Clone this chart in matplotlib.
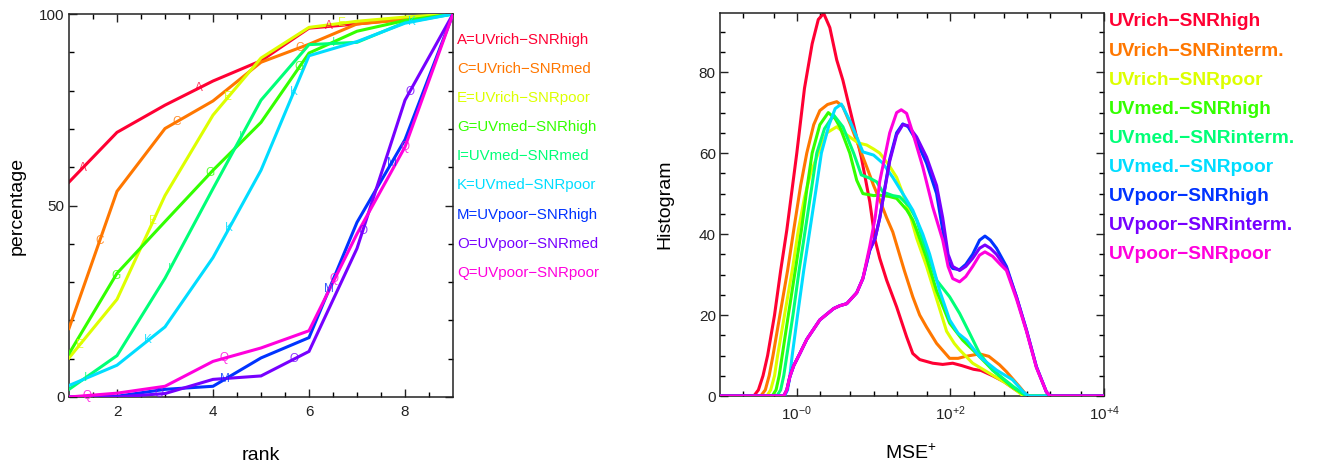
import numpy as np
import matplotlib
matplotlib.use("Agg")
import matplotlib.pyplot as plt
from matplotlib.ticker import FixedLocator, NullFormatter, FixedFormatter

plt.rcParams['font.family'] = ['Liberation Sans', 'DejaVu Sans']
plt.rcParams['mathtext.fontset'] = 'custom'
plt.rcParams['mathtext.rm'] = 'Liberation Sans'
plt.rcParams['mathtext.it'] = 'Liberation Sans:italic'
plt.rcParams['mathtext.sf'] = 'Liberation Sans'

colors = ['#FF0033', '#FF7700', '#DDFF00', '#33FF00', '#00FF77',
          '#00DDFF', '#0033FF', '#7700FF', '#FF00DD']

# ---------------- left panel: cumulative percentage vs rank ----------------
ranks = [1, 2, 3, 4, 5, 6, 7, 8, 9]
letters = ['A', 'C', 'E', 'G', 'I', 'K', 'M', 'O', 'Q']
left_labels = ['A=UVrich\u2212SNRhigh', 'C=UVrich\u2212SNRmed', 'E=UVrich\u2212SNRpoor',
               'G=UVmed\u2212SNRhigh', 'I=UVmed\u2212SNRmed', 'K=UVmed\u2212SNRpoor',
               'M=UVpoor\u2212SNRhigh', 'O=UVpoor\u2212SNRmed', 'Q=UVpoor\u2212SNRpoor']

pct_A = [56.1, 69.1, 76.2, 82.5, 87.8, 96.3, 97.4, 98.7, 100]
pct_C = [17.9, 53.7, 70.1, 77.3, 87.4, 92.1, 97.4, 98.5, 100]
pct_E = [10.2, 25.5, 52.6, 73.6, 88.5, 96.5, 98.1, 99.2, 100]
pct_G = [11.3, 32.3, 45.8, 59.2, 71.7, 89.8, 95.5, 98.3, 100]
pct_I = [2.0, 10.8, 31.0, 54.4, 77.5, 92.0, 92.6, 97.8, 100]
pct_K = [3.0, 8.3, 18.3, 36.4, 59.2, 89.1, 92.8, 97.6, 100]
pct_M = [0.0, 0.2, 2.0, 2.8, 10.2, 15.5, 45.6, 67.2, 100]
pct_O = [0.0, 0.0, 0.9, 4.6, 5.5, 11.9, 38.8, 77.5, 100]
pct_Q = [0.0, 1.0, 2.8, 9.3, 12.8, 17.3, 42.6, 65.3, 100]
left_series = [pct_A, pct_C, pct_E, pct_G, pct_I, pct_K, pct_M, pct_O, pct_Q]

# fractional ranks where the letter symbols sit on each line
mark_A = [1.28, 3.71, 6.41]
mark_C = [1.64, 3.25, 5.8]
mark_E = [1.22, 2.75, 4.32, 6.69]
mark_G = [1.97, 3.94, 5.8]
mark_I = [1.35, 3.1, 4.58, 6.51]
mark_K = [2.65, 4.34, 5.68, 8.15]
mark_M = [4.25, 6.42, 7.72]
mark_O = [2.88, 5.68, 7.12, 8.1]
mark_Q = [1.38, 4.23, 6.53, 8.0]
left_marks = [mark_A, mark_C, mark_E, mark_G, mark_I, mark_K, mark_M, mark_O, mark_Q]

# ---------------- right panel: histograms vs MSE+ (log10 of MSE+) ----------------
right_labels = ['UVrich\u2212SNRhigh', 'UVrich\u2212SNRinterm.', 'UVrich\u2212SNRpoor',
                'UVmed.\u2212SNRhigh', 'UVmed.\u2212SNRinterm.', 'UVmed.\u2212SNRpoor',
                'UVpoor\u2212SNRhigh', 'UVpoor\u2212SNRinterm.', 'UVpoor\u2212SNRpoor']

lx_rich_high = [-1, -0.56, -0.5, -0.44, -0.38, -0.29, -0.21, -0.13, 0, 0.1, 0.2, 0.28, 0.35,
                0.43, 0.52, 0.6, 0.74, 0.84, 0.95, 1.02, 1.08, 1.17, 1.3, 1.43, 1.51, 1.6,
                1.77, 1.9, 2.03, 2.15, 2.3, 2.4, 2.55, 2.7, 2.85, 2.97, 3.05, 4]
h_rich_high = [0, 0, 1.5, 5, 10, 20, 31, 41, 60, 76, 87, 93, 94.5,
               91, 83, 78, 67, 59, 48, 38.5, 34, 28.6, 22, 14.6, 10.5, 9,
               8.1, 7.8, 8.1, 7.5, 6.6, 6.3, 5.0, 3.5, 1.5, 0.2, 0, 0]

lx_rich_int = [-1, -0.47, -0.41, -0.36, -0.31, -0.22, -0.12, -0.04, 0.05, 0.13, 0.22, 0.3, 0.4,
               0.52, 0.6, 0.7, 0.78, 0.91, 1.0, 1.08, 1.17, 1.25, 1.4, 1.51, 1.6, 1.69, 1.82,
               1.99, 2.1, 2.2, 2.38, 2.5, 2.64, 2.73, 2.9, 3.0, 4]
h_rich_int = [0, 0, 1.5, 5, 10, 20, 31, 41, 52, 60, 67, 70.5, 72,
              72.7, 71.5, 67, 63, 56.6, 52, 48.4, 44, 40.5, 31, 24.5, 20, 17, 13,
              9.3, 9.3, 9.8, 10.4, 9.8, 7.7, 6, 2.3, 0, 0]

lx_rich_poor = [-1, -0.39, -0.34, -0.29, -0.25, -0.16, -0.06, 0.02, 0.1, 0.18, 0.28, 0.39, 0.52,
                0.65, 0.8, 0.91, 1.0, 1.08, 1.2, 1.3, 1.38, 1.47, 1.56, 1.69, 1.82, 1.95, 2.05,
                2.12, 2.29, 2.51, 2.73, 2.85, 2.95, 4]
h_rich_poor = [0, 0, 1.5, 5, 10, 20, 31, 41, 49, 55, 60, 65, 66.5,
               64.5, 62.5, 62, 61, 60, 57, 54, 50, 45, 39, 32, 24, 16, 13,
               11.4, 8.1, 5.6, 3.1, 1.5, 0, 0]

lx_med_high = [-1, -0.32, -0.27, -0.23, -0.19, -0.11, -0.02, 0.06, 0.13, 0.2, 0.3, 0.41,
               0.5, 0.56, 0.69, 0.78, 0.86, 1.0, 1.08, 1.2, 1.3, 1.43, 1.51, 1.56, 1.69, 1.82,
               1.99, 2.16, 2.34, 2.55, 2.8, 2.99, 4]
h_med_high = [0, 0, 1.5, 5, 10, 20, 31, 41, 51, 60, 67, 70,
              68.5, 66.5, 60, 53.3, 50, 49.5, 49.6, 49.3, 48.8, 46, 43.5, 41, 34, 26,
              18, 13.8, 10.5, 6.4, 2.3, 0, 0]

lx_med_int = [-1, -0.26, -0.21, -0.17, -0.13, -0.05, 0.03, 0.11, 0.19, 0.26, 0.36, 0.48,
              0.6, 0.74, 0.84, 0.95, 1.04, 1.12, 1.25, 1.34, 1.47, 1.56, 1.64, 1.82, 1.99,
              2.12, 2.25, 2.38, 2.55, 2.82, 2.99, 4]
h_med_int = [0, 0, 1.5, 5, 10, 20, 31, 41, 51, 60, 66, 69.4,
             66.5, 60, 54.6, 53.8, 52.9, 50.4, 49.5, 49.2, 46.7, 43.5, 38.5, 28.6, 24.5,
             20.4, 15.5, 10.5, 6.4, 2.3, 0, 0]

lx_med_poor = [-1, -0.16, -0.12, -0.09, -0.06, 0.01, 0.09, 0.17, 0.25, 0.32, 0.42, 0.5, 0.58,
               0.69, 0.78, 0.86, 1.0, 1.12, 1.25, 1.38, 1.51, 1.64, 1.73, 1.86, 1.99, 2.1,
               2.21, 2.38, 2.6, 2.81, 2.95, 3.02, 4]
h_med_poor = [0, 0, 1.5, 5, 10, 20, 31, 41, 51, 60, 67, 71, 72.1,
              68, 64, 60.3, 59.5, 57.5, 54, 50, 45.9, 40, 35, 26, 18.8, 15.5,
              13.8, 9.7, 6.4, 4, 1, 0, 0]

lx_poor_high = [-1, -0.17, -0.13, -0.09, -0.04, 0.04, 0.13, 0.3, 0.48, 0.56, 0.65, 0.78, 0.86,
                0.95, 1.02, 1.08, 1.21, 1.3, 1.38, 1.45, 1.56, 1.69, 1.82, 1.9, 1.97, 2.03,
                2.12, 2.2, 2.29, 2.38, 2.45, 2.52, 2.6, 2.73, 2.86, 2.99, 3.12, 3.25, 3.3, 4]
h_poor_high = [0, 0, 1.5, 4.8, 7.5, 10.5, 14, 18.8, 21.6, 22.3, 22.8, 25.5, 29,
               36, 39, 44, 58.5, 65, 67.2, 66.5, 63, 57.5, 50, 41, 33, 31.5,
               31.2, 32.5, 35, 38.5, 39.5, 38.5, 36.5, 32, 24.5, 16.3, 7.2, 1, 0, 0]

lx_poor_int = [-1, -0.17, -0.13, -0.09, -0.04, 0.04, 0.13, 0.3, 0.48, 0.56, 0.65, 0.78, 0.86,
               0.95, 1.02, 1.08, 1.21, 1.3, 1.38, 1.45, 1.56, 1.69, 1.82, 1.9, 1.97, 2.03,
               2.12, 2.2, 2.29, 2.38, 2.45, 2.52, 2.6, 2.73, 2.86, 2.99, 3.12, 3.25, 3.3, 4]
h_poor_int = [0, 0, 1.5, 4.8, 7.5, 10.5, 14, 18.8, 21.6, 22.3, 22.8, 25.5, 29,
              36, 39, 44, 58, 64.5, 67, 66.8, 64, 59, 52, 44, 35, 32,
              31, 32, 34, 36.5, 37.3, 36.5, 35, 31.5, 24.5, 16.3, 7.2, 1, 0, 0]

lx_poor_poor = [-1, -0.17, -0.13, -0.09, -0.04, 0.04, 0.13, 0.3, 0.48, 0.56, 0.65, 0.78, 0.86,
                0.95, 1.02, 1.08, 1.21, 1.3, 1.36, 1.43, 1.51, 1.64, 1.77, 1.9, 1.97, 2.03,
                2.12, 2.2, 2.29, 2.38, 2.45, 2.55, 2.65, 2.73, 2.86, 2.99, 3.12, 3.25, 3.3, 4]
h_poor_poor = [0, 0, 1.5, 4.8, 7.5, 10.5, 14, 18.8, 21.6, 22.3, 22.8, 25.5, 29,
               37, 44, 53, 65, 70, 70.7, 69.8, 65, 56.6, 46.7, 38.5, 32, 29,
               28.2, 29.5, 32, 34.8, 35.6, 34.5, 32.5, 31, 24, 16, 7, 1, 0, 0]

right_x = [lx_rich_high, lx_rich_int, lx_rich_poor, lx_med_high, lx_med_int, lx_med_poor,
           lx_poor_high, lx_poor_int, lx_poor_poor]
right_y = [h_rich_high, h_rich_int, h_rich_poor, h_med_high, h_med_int, h_med_poor,
           h_poor_high, h_poor_int, h_poor_poor]

# ---------------- figure ----------------
W, H = 1317, 468
fig = plt.figure(figsize=(W / 100, H / 100), dpi=100)

def px_axes(x0, y0, x1, y1):
    return fig.add_axes([x0 / W, 1 - y1 / H, (x1 - x0) / W, (y1 - y0) / H])

axL = px_axes(69, 14, 453, 397)
axR = px_axes(720, 13, 1104, 396)

tick_kw = dict(direction='in', top=True, right=True, labelsize=11, colors='#222222')

# left panel
for i, ys in enumerate(left_series):
    axL.plot(ranks, ys, color=colors[i], lw=2.2, zorder=2 + i, solid_joinstyle='miter')
    mx = np.array(left_marks[i])
    my = np.interp(mx, ranks, ys)
    for xx, yy in zip(mx, my):
        axL.text(xx, yy, letters[i], color=colors[i], fontsize=8.5, ha='center',
                 va='center', zorder=20, alpha=0.8)

axL.set_xlim(1, 9)
axL.set_ylim(0, 100)
axL.xaxis.set_major_locator(FixedLocator([2, 4, 6, 8]))
axL.xaxis.set_minor_locator(FixedLocator(np.arange(1.5, 9, 0.5)))
axL.yaxis.set_major_locator(FixedLocator([0, 50, 100]))
axL.yaxis.set_minor_locator(FixedLocator(np.arange(10, 100, 10)))
axL.tick_params(which='major', length=6, width=1.0, pad=4, **tick_kw)
axL.tick_params(which='minor', length=3.5, width=1.0, direction='in', top=True, right=True)
axL.tick_params(axis='x', which='major', pad=6)
axL.tick_params(axis='y', which='major', pad=3)
axL.set_xlabel('rank', fontsize=14)
axL.xaxis.set_label_coords(0.5, -0.154)
axL.xaxis.label.set_va('center')
axL.set_ylabel('percentage', fontsize=14)
axL.yaxis.set_label_coords(-0.135, 0.5)
axL.yaxis.label.set_va('center')

leg_y0, leg_dy = 40, 29.1
for i, lab in enumerate(left_labels):
    fig.text(457 / W, 1 - (leg_y0 + i * leg_dy) / H, lab, color=colors[i], fontsize=10.8,
             ha='left', va='center')

# right panel
for i in range(9):
    axR.plot(10.0 ** np.array(right_x[i]), right_y[i], color=colors[i], lw=2.2, zorder=2 + i)

axR.set_xscale('log')
axR.set_xlim(0.1, 1e4)
axR.set_ylim(0, 94.6)
axR.xaxis.set_major_locator(FixedLocator([1, 100, 10000]))
axR.xaxis.set_major_formatter(FixedFormatter([r'$10^{-0}$', r'$10^{+2}$', r'$10^{+4}$']))
axR.xaxis.set_minor_locator(FixedLocator([0.2, 0.5, 2, 5, 10, 20, 50, 200, 500, 1000, 2000, 5000]))
axR.xaxis.set_minor_formatter(NullFormatter())
axR.yaxis.set_major_locator(FixedLocator([0, 20, 40, 60, 80]))
axR.yaxis.set_minor_locator(FixedLocator(np.arange(5, 95, 5)))
axR.tick_params(which='major', length=6, width=1.0, **tick_kw)
axR.tick_params(which='minor', length=3.5, width=1.0, direction='in', top=True, right=True)
axR.tick_params(axis='x', which='major', pad=6)
axR.tick_params(axis='y', which='major', pad=3)
axR.set_xlabel('MSE$^{+}$', fontsize=14)
axR.xaxis.set_label_coords(0.497, -0.149)
axR.xaxis.label.set_va('center')
axR.set_ylabel('Histogram', fontsize=14)
axR.yaxis.set_label_coords(-0.143, 0.5)
axR.yaxis.label.set_va('center')

rleg_y0, rleg_dy = 22, 29.1
for i, lab in enumerate(right_labels):
    fig.text(1109 / W, 1 - (rleg_y0 + i * rleg_dy) / H, lab, color=colors[i], fontsize=13.8,
             fontweight='bold', ha='left', va='center')

for ax in (axL, axR):
    for s in ax.spines.values():
        s.set_linewidth(1.1)
        s.set_color('#222222')

fig.savefig('out.png', dpi=100)
